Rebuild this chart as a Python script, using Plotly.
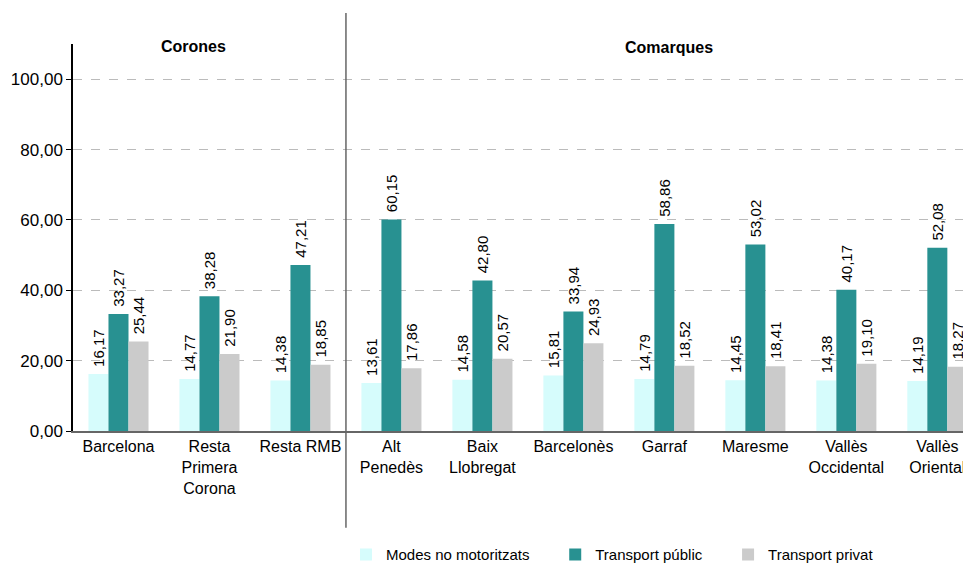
import plotly.graph_objects as go

categories = ["Barcelona", "Resta<br>Primera<br>Corona", "Resta RMB", "Alt<br>Penedès",
              "Baix<br>Llobregat", "Barcelonès", "Garraf", "Maresme",
              "Vallès<br>Occidental", "Vallès<br>Oriental"]
no_motor = [16.17, 14.77, 14.38, 13.61, 14.58, 15.81, 14.79, 14.45, 14.38, 14.19]
publico = [33.27, 38.28, 47.21, 60.15, 42.80, 33.94, 58.86, 53.02, 40.17, 52.08]
privat = [25.44, 21.90, 18.85, 17.86, 20.57, 24.93, 18.52, 18.41, 19.10, 18.27]
series_names = ["Modes no motoritzats", "Transport públic", "Transport privat"]
colors = ["#D6FCFC", "#289191", "#CBCBCB"]
y_ticks = [0, 20, 40, 60, 80, 100]

FONT = "Liberation Sans, Arial, sans-serif"

fig = go.Figure()
for name, vals, col in zip(series_names, [no_motor, publico, privat], colors):
    fig.add_trace(go.Bar(
        x=categories, y=vals, name=name + "\u00a0" * 5, marker=dict(color=col, line=dict(width=0)),
        texttemplate="\u00a0%{y:.2f}", textposition="outside", textangle=-90,
        constraintext="none", cliponaxis=False,
        textfont=dict(size=15, color="black", family=FONT),
    ))

# page body has an 8px default margin, so the figure is 8px smaller than the window
fig.update_layout(
    width=963, height=557,
    margin=dict(l=65, r=0, t=36, b=134, autoexpand=False),
    paper_bgcolor="white", plot_bgcolor="white",
    separators=",.",
    barmode="group", bargap=0.34, bargroupgap=0,
    font=dict(family=FONT, color="black"),
    showlegend=True,
    legend=dict(orientation="h", x=0.304, xanchor="left", y=-0.32, yanchor="middle",
                font=dict(size=15, family=FONT), traceorder="normal",
                itemwidth=30, tracegroupgap=0),
    xaxis=dict(range=[-0.5, 9.37], showline=True, linecolor="#666666", linewidth=1.5,
               ticks="", tickfont=dict(size=16, family=FONT), showgrid=False,
               automargin=False, fixedrange=True),
    yaxis=dict(range=[0, 110], tickvals=y_ticks, tickformat=".2f",
               showline=True, linecolor="black", linewidth=1.5,
               ticks="outside", ticklen=5, tickcolor="black",
               tickfont=dict(size=17, family=FONT), automargin=False,
               showgrid=True, gridcolor="#BBBBBB", griddash="dash", gridwidth=1,
               zeroline=False),
)

# separator line between sections
fig.add_shape(type="line", xref="x", yref="paper", x0=2.5, x1=2.5, y0=-0.25, y1=1.08,
              line=dict(color="#666666", width=1.5))

fig.add_annotation(text="<b>Corones</b>", x=0.82, y=109.4, xref="x", yref="y",
                   showarrow=False, font=dict(size=16, family=FONT), yanchor="middle")
fig.add_annotation(text="<b>Comarques</b>", x=6.05, y=108.9, xref="x", yref="y",
                   showarrow=False, font=dict(size=16, family=FONT), yanchor="middle")

fig.write_html("out.html")
